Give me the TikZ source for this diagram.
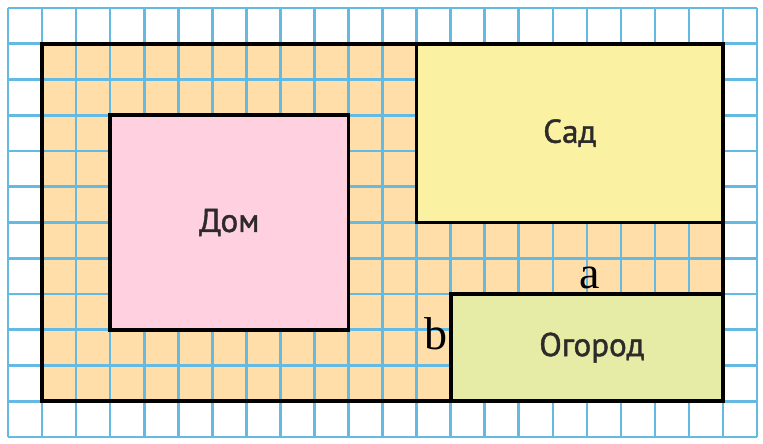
\documentclass[tikz,border=0pt]{standalone}
\usepackage{fontspec}
\setmainfont{PT Sans}
\newfontfamily\lblfont{PT Sans}[FakeBold=1.3]
\newfontfamily\serifab{Liberation Serif}
\definecolor{gridblue}{RGB}{100,186,226}
\definecolor{plotfill}{RGB}{255,222,170}
\definecolor{housefill}{RGB}{255,208,224}
\definecolor{gardenfill}{RGB}{250,241,162}
\definecolor{vegfill}{RGB}{230,235,165}
\definecolor{labeltext}{RGB}{45,42,42}
\tikzset{
  gridline/.style={draw=gridblue, line width=2.6pt},
  border/.style={draw=black, line width=3.7pt},
  area/.style={border, inner sep=0pt, outer sep=0pt, font=\lblfont\fontsize{33}{35}\selectfont, text=labeltext},
  sidelabel/.style={font=\serifab\fontsize{46}{48}\selectfont, text=black, inner sep=0pt},
}
\begin{document}
\begin{tikzpicture}[x=34.05pt,y=-35.75pt]
\useasboundingbox (-8pt,8pt) rectangle (755pt,-436pt);
% background plot (fill only)
\node[fill=plotfill, inner sep=0pt, outer sep=0pt, minimum width=681pt, minimum height=357.5pt] (plot) at (11,6) {};
% grid
\foreach \i in {0,...,22} \draw[gridline] (\i,0) -- (\i,12);
\foreach \j in {0,...,12} \draw[gridline] (0,\j) -- (22,\j);
% plot border
\draw[border] (plot.north west) rectangle (plot.south east);
% areas
\node[area, fill=housefill, minimum width=238.35pt, minimum height=214.5pt] (house) at (6.5,6) {\raisebox{3pt}{Дом}};
\node[area, fill=gardenfill, minimum width=306.45pt, minimum height=178.75pt] (garden) at (16.5,3.5) {Сад};
\node[area, fill=vegfill, minimum width=272.4pt, minimum height=107.25pt] (veg) at (17,9.5) {\hspace*{10pt}Огород};
% side labels
\node[sidelabel, anchor=south] (la) at ([xshift=3pt,yshift=5pt]veg.north) {a};
\node[sidelabel, anchor=east] (lb) at ([xshift=-3pt,yshift=14pt]veg.west) {b};
\end{tikzpicture}
\end{document}
